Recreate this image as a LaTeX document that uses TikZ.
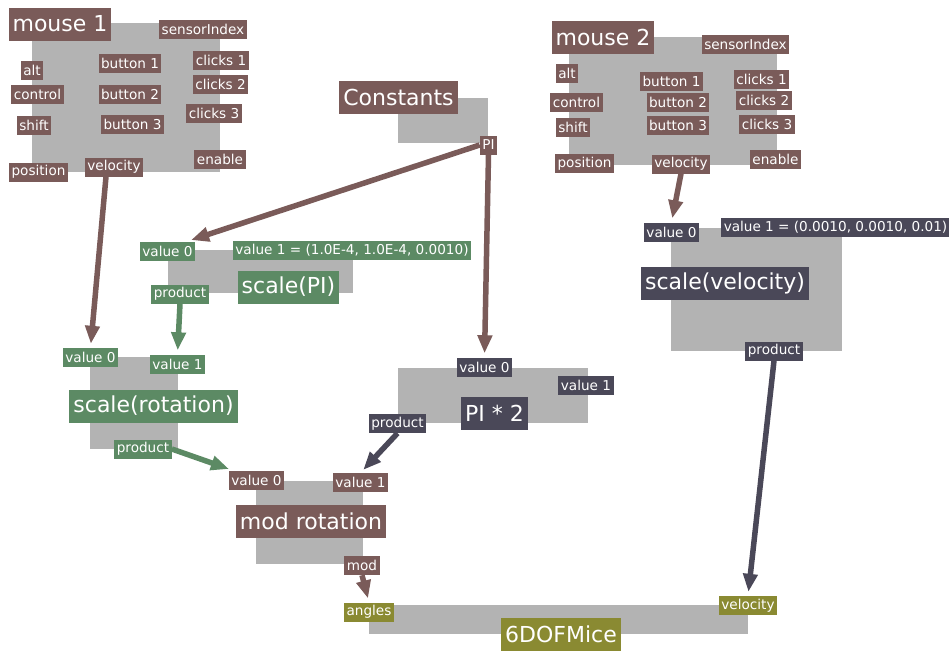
\documentclass[tikz,border=0pt]{standalone}
\usepackage{fontspec}
\setmainfont{DejaVu Sans}
\usetikzlibrary{arrows.meta}
\definecolor{brn}{RGB}{122,91,89}
\definecolor{grn}{RGB}{92,138,100}
\definecolor{slt}{RGB}{74,72,88}
\definecolor{olv}{RGB}{138,138,50}
\definecolor{gbx}{RGB}{179,179,179}
\pgfdeclarelayer{back}
\pgfdeclarelayer{wires}
\pgfsetlayers{back,wires,main}

\begin{document}
\begin{tikzpicture}[x=1pt,y=-1pt,
  box/.style={fill=gbx, inner sep=0pt},
  port/.style={text=white, inner xsep=2.5pt, inner ysep=0pt, minimum height=19pt, font=\fontsize{13.6}{15}\selectfont},
  title/.style={text=white, inner xsep=4pt, inner ysep=0pt, minimum height=33pt, font=\fontsize{22}{25}\selectfont},
  brport/.style={port, fill=brn}, grport/.style={port, fill=grn},
  slport/.style={port, fill=slt}, olport/.style={port, fill=olv},
  brtitle/.style={title, fill=brn}, grtitle/.style={title, fill=grn},
  sltitle/.style={title, fill=slt}, oltitle/.style={title, fill=olv},
  wire/.style={line width=5.5pt, -{Triangle[length=18pt,width=14pt]}, shorten >=4pt}]
\useasboundingbox (0,0) rectangle (949,651);

\begin{pgfonlayer}{back}
\fill[white] (0,0) rectangle (949,651);
\node[box, minimum width=188pt, minimum height=149pt] (m1box) at (126,97.5) {};
\node[box, minimum width=208pt, minimum height=128pt] (m2box) at (673,101) {};
\node[box, minimum width=90pt, minimum height=45pt] (cbox) at (443,120.5) {};
\node[box, minimum width=185pt, minimum height=43pt] (spbox) at (260.5,271.5) {};
\node[box, minimum width=171pt, minimum height=123pt] (svbox) at (756.5,289.5) {};
\node[box, minimum width=88pt, minimum height=92pt] (srbox) at (134,403) {};
\node[box, minimum width=190pt, minimum height=55pt] (p2box) at (493,395.5) {};
\node[box, minimum width=107pt, minimum height=83pt] (mrbox) at (309.5,522.5) {};
\node[box, minimum width=379pt, minimum height=29pt] (dbox) at (558.5,619.5) {};
\end{pgfonlayer}

\node[brtitle] (m1title) at (60,24) {mouse 1};
\node[brport] (m1idx) at (203,29) {sensorIndex};
\node[brport] (m1alt) at (32,70.5) {alt};
\node[brport] (m1ctrl) at (37.5,94) {control};
\node[brport] (m1shift) at (34,125.5) {shift};
\node[brport] (m1b1) at (130,63) {button 1};
\node[brport] (m1b2) at (130,94.5) {button 2};
\node[brport] (m1b3) at (132.5,124) {button 3};
\node[brport] (m1c1) at (221,60.5) {clicks 1};
\node[brport] (m1c2) at (220.5,84.5) {clicks 2};
\node[brport] (m1c3) at (214,113.5) {clicks 3};
\node[brport] (m1en) at (220,159) {enable};
\node[brport] (m1pos) at (38.5,172) {position};
\node[brport] (m1vel) at (114,167) {velocity};

\node[brtitle] (m2title) at (603,37) {mouse 2};
\node[brport] (m2idx) at (745.5,44.5) {sensorIndex};
\node[brport] (m2alt) at (567,73.5) {alt};
\node[brport] (m2ctrl) at (576.5,102.5) {control};
\node[brport] (m2shift) at (573,127) {shift};
\node[brport] (m2b1) at (671.5,81.5) {button 1};
\node[brport] (m2b2) at (678,102.5) {button 2};
\node[brport] (m2b3) at (678,125) {button 3};
\node[brport] (m2c1) at (761.5,79) {clicks 1};
\node[brport] (m2c2) at (764,100) {clicks 2};
\node[brport] (m2c3) at (767,124.5) {clicks 3};
\node[brport] (m2en) at (775.5,159) {enable};
\node[brport] (m2pos) at (584.5,163.5) {position};
\node[brport] (m2vel) at (681,164) {velocity};

\node[brtitle] (ctitle) at (398.5,97.5) {Constants};
\node[brport] (cpi) at (488.5,145) {PI};

\node[grport] (spv0) at (167.5,251) {value 0};
\node[grport] (spv1) at (352,250.5) {value 1 = (1.0E-4, 1.0E-4, 0.0010)};
\node[grtitle] (sptitle) at (288.5,287) {scale(PI)};
\node[grport] (spprod) at (180,294) {product};

\node[slport] (svv0) at (671.5,232) {value 0};
\node[slport] (svv1) at (835.5,227.5) {value 1 = (0.0010, 0.0010, 0.01)};
\node[sltitle] (svtitle) at (725,283) {scale(velocity)};
\node[slport] (svprod) at (774,351) {product};

\node[grport] (srv0) at (90.5,357.5) {value 0};
\node[grport] (srv1) at (177.5,364) {value 1};
\node[grtitle] (srtitle) at (153.5,406) {scale(rotation)};
\node[grport] (srprod) at (143,449) {product};

\node[slport] (p2v0) at (484.5,367) {value 0};
\node[slport] (p2v1) at (586,385) {value 1};
\node[sltitle] (p2title) at (494.5,413.5) {PI * 2};
\node[slport] (p2prod) at (397.5,423.5) {product};

\node[brport] (mrv0) at (256.5,480) {value 0};
\node[brport] (mrv1) at (360.5,482.5) {value 1};
\node[brtitle] (mrtitle) at (311,521) {mod rotation};
\node[brport] (mrmod) at (362,565.5) {mod};

\node[olport] (dang) at (369,612) {angles};
\node[olport] (dvel) at (748,605.5) {velocity};
\node[oltitle] (dtitle) at (561,634.5) {6DOFMice};

\begin{pgfonlayer}{wires}
\draw[wire, brn] ([xshift=-8pt]m1vel.south) -- (srv0.north);
\draw[wire, brn] (cpi.west) -- ([xshift=-8pt]spv0.north east);
\draw[wire, brn] (cpi.south) -- (p2v0.north);
\draw[wire, grn] (spprod.south) -- (srv1.north);
\draw[wire, grn] (srprod.east) -- ([xshift=4pt]mrv0.north west);
\draw[wire, slt] (p2prod.south) -- (mrv1.north);
\draw[wire, brn] (mrmod.south) -- (dang.north);
\draw[wire, brn] (m2vel.south) -- (svv0.north);
\draw[wire, slt] (svprod.south) -- (dvel.north);
\end{pgfonlayer}
\end{tikzpicture}
\end{document}
